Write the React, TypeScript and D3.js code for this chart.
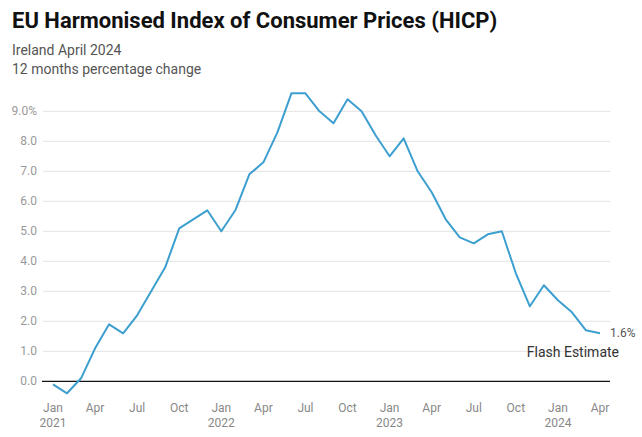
import React from "react";
import * as d3 from "d3";

const months = [
  "2021-01","2021-02","2021-03","2021-04","2021-05","2021-06","2021-07","2021-08","2021-09","2021-10","2021-11","2021-12",
  "2022-01","2022-02","2022-03","2022-04","2022-05","2022-06","2022-07","2022-08","2022-09","2022-10","2022-11","2022-12",
  "2023-01","2023-02","2023-03","2023-04","2023-05","2023-06","2023-07","2023-08","2023-09","2023-10","2023-11","2023-12",
  "2024-01","2024-02","2024-03","2024-04",
];
const hicp = [
  -0.1, -0.4, 0.1, 1.1, 1.9, 1.6, 2.2, 3.0, 3.8, 5.1, 5.4, 5.7,
  5.0, 5.7, 6.9, 7.3, 8.3, 9.6, 9.6, 9.0, 8.6, 9.4, 9.0, 8.2,
  7.5, 8.1, 7.0, 6.3, 5.4, 4.8, 4.6, 4.9, 5.0, 3.6, 2.5, 3.2,
  2.7, 2.3, 1.7, 1.6,
];
const yTicks = [0, 1, 2, 3, 4, 5, 6, 7, 8, 9];
const monthNames = ["Jan","Feb","Mar","Apr","May","Jun","Jul","Aug","Sep","Oct","Nov","Dec"];
const title = "EU Harmonised Index of Consumer Prices (HICP)";
const subtitle1 = "Ireland April 2024";
const subtitle2 = "12 months percentage change";
const lastLabel = "1.6%";
const noteLabel = "Flash Estimate";

const W = 642, H = 437;
const FONT = "Roboto, 'Noto Sans', Arial, sans-serif";

export default function App() {
  const x = d3.scaleLinear().domain([0, months.length - 1]).range([53, 600]);
  const y = d3.scaleLinear().domain([0, 9]).range([381.3, 111.3]);
  const line = d3.line<number>().x((_, i) => x(i)).y((d) => y(d));
  const xTickIdx = months.map((_, i) => i).filter((i) => i % 3 === 0);
  const last = hicp.length - 1;

  return (
    <svg width={W} height={H} style={{ position: "absolute", left: 0, top: 0, background: "#fff" }} fontFamily={FONT}>
      <text x={12} y={28} fontSize={22} fontWeight={700} fill="#111">{title}</text>
      <text x={12} y={55} fontSize={14} fill="#555">{subtitle1}</text>
      <text x={12} y={74} fontSize={14} fill="#555">{subtitle2}</text>

      {yTicks.map((t) => (
        <g key={t}>
          {t !== 0 && <line x1={43} x2={610} y1={y(t)} y2={y(t)} stroke="#e3e3e3" strokeWidth={1} />}
          <text x={37} y={y(t) + 4} fontSize={12} fill="#999" textAnchor="end">
            {t === 9 ? "9.0%" : t.toFixed(1)}
          </text>
        </g>
      ))}
      <line x1={42} x2={610} y1={y(0)} y2={y(0)} stroke="#111" strokeWidth={1.3} />

      {xTickIdx.map((i) => {
        const [yr, mo] = months[i].split("-");
        const m = +mo - 1;
        return (
          <g key={i}>
            <text x={x(i)} y={412} fontSize={12} fill="#888" textAnchor="middle">{monthNames[m]}</text>
            {m === 0 && (
              <text x={x(i)} y={427} fontSize={12} fill="#888" textAnchor="middle">{yr}</text>
            )}
          </g>
        );
      })}

      <path d={line(hicp) || ""} fill="none" stroke="#3d9fcf" strokeWidth={2} strokeLinejoin="round" />

      <text x={x(last) + 10} y={y(hicp[last]) + 4} fontSize={12} fill="#555">{lastLabel}</text>
      <text x={619} y={357} fontSize={14} fill="#333" textAnchor="end">{noteLabel}</text>
    </svg>
  );
}
